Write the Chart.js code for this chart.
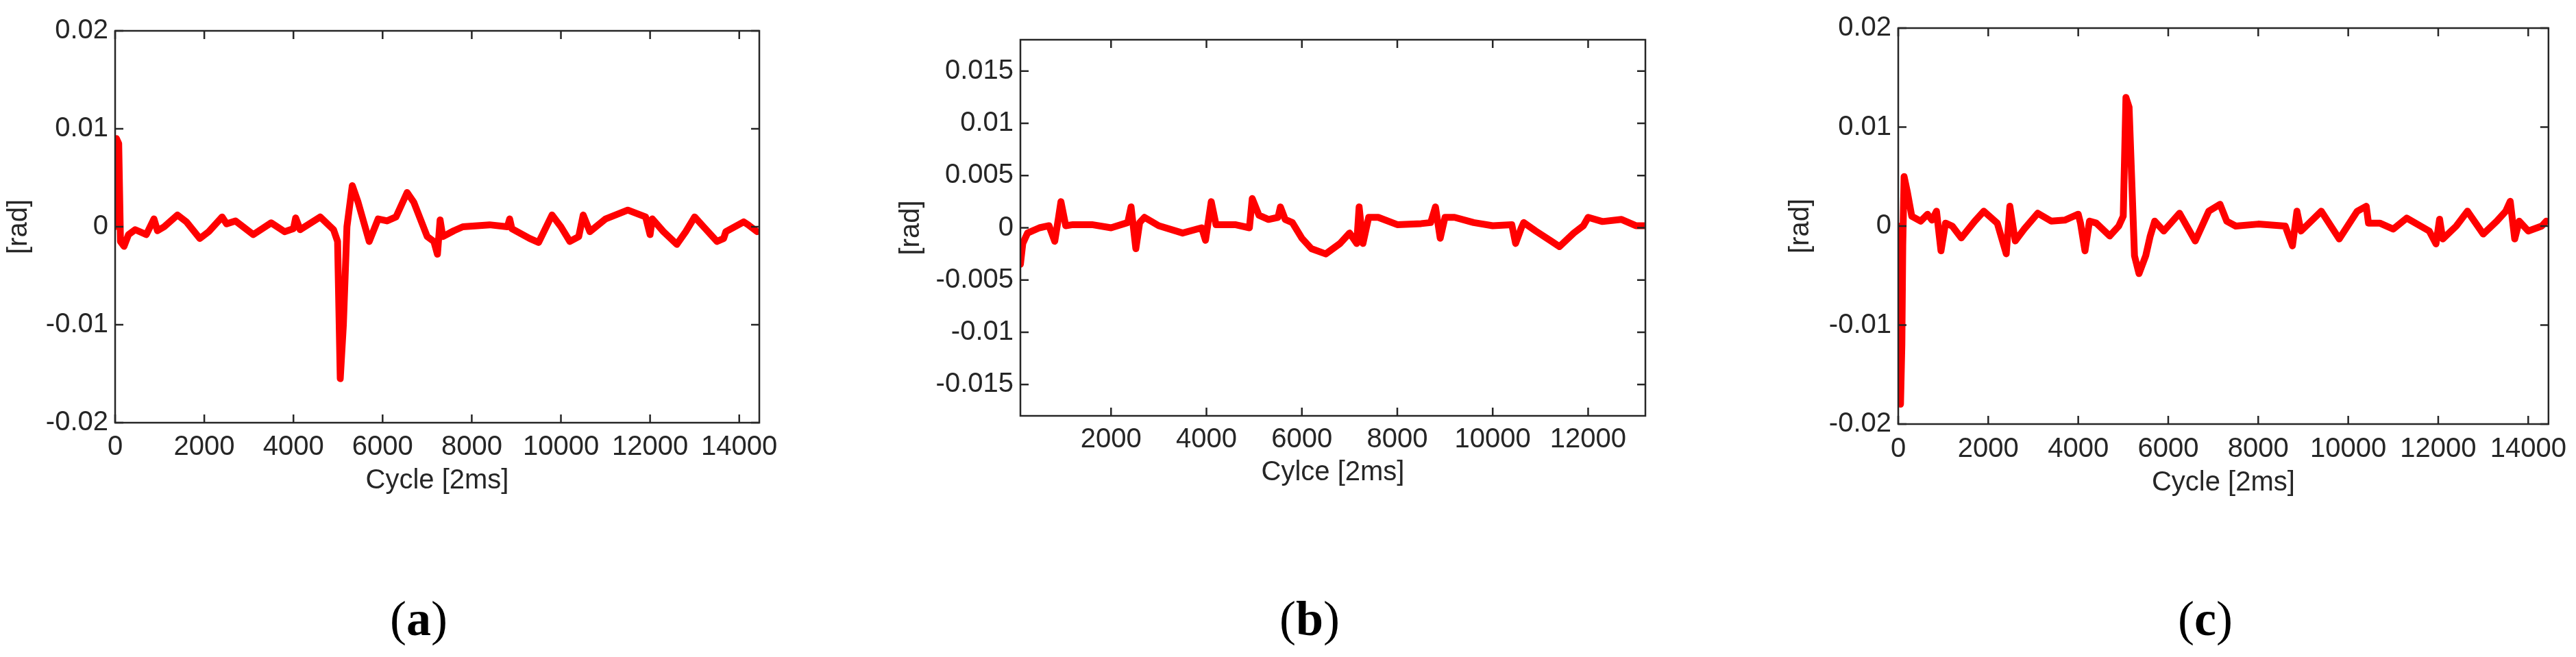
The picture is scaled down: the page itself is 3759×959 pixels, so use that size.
<!DOCTYPE html>
<html>
<head>
<meta charset="utf-8">
<script src="https://cdn.jsdelivr.net/npm/chart.js@4.4.1/dist/chart.umd.min.js"></script>
<style>
  body { margin: 0; background: #fff; width: 3759px; height: 959px; position: relative; overflow: hidden; }
  canvas { position: absolute; top: 0; }
  .cap { position: absolute; top: 862px; font-family: "Liberation Serif", serif; font-size: 72px; color: #000; transform: translateX(-50%); }
  .cap b { font-weight: bold; }
</style>
</head>
<body>
<canvas id="chartA" width="1250" height="726" style="left:0px"></canvas>
<canvas id="chartB" width="1200" height="714" style="left:1302px"></canvas>
<canvas id="chartC" width="1159" height="729" style="left:2600px"></canvas>
<div class="cap" style="left:611px">(<b>a</b>)</div>
<div class="cap" style="left:1911px">(<b>b</b>)</div>
<div class="cap" style="left:3218px">(<b>c</b>)</div>
<script>
// Datos (valores en rad)
const cycleA = [0, 30, 80, 120, 200, 300, 450, 700, 870, 950, 1100, 1400, 1600, 1900, 2100, 2400, 2500, 2700, 3100, 3500, 3800, 4000, 4050, 4150, 4600, 4900, 4990, 5050, 5120, 5200, 5320, 5450, 5700, 5900, 6100, 6300, 6550, 6700, 7000, 7150, 7230, 7290, 7350, 7600, 7800, 8400, 8800, 8850, 8900, 9300, 9500, 9800, 10000, 10200, 10400, 10500, 10650, 11000, 11500, 11900, 12000, 12050, 12300, 12600, 12800, 13000, 13200, 13500, 13650, 13700, 14100, 14200, 14400];
const radA = [0, 9, 8.5, -1.5, -2, -0.8, -0.3, -0.8, 0.8, -0.4, 0, 1.2, 0.5, -1.2, -0.5, 1, 0.3, 0.6, -0.8, 0.4, -0.5, -0.2, 0.9, -0.3, 1, -0.3, -1.5, -15.5, -10, 0, 4.2, 2.5, -1.5, 0.8, 0.6, 1, 3.5, 2.5, -1, -1.5, -2.8, 0.7, -1, -0.4, 0, 0.2, 0, 0.8, -0.2, -1.2, -1.6, 1.2, 0, -1.5, -1, 1.2, -0.5, 0.8, 1.7, 1, -0.8, 0.8, -0.5, -1.8, -0.5, 1, 0, -1.5, -1.2, -0.5, 0.5, 0.2, -0.5].map(v => v / 1000);

const cycleB = [100, 150, 250, 500, 700, 820, 900, 950, 1050, 1200, 1600, 2000, 2350, 2420, 2520, 2600, 2700, 3000, 3500, 3900, 3980, 4100, 4200, 4600, 4900, 4960, 5100, 5300, 5500, 5550, 5650, 5800, 6000, 6200, 6500, 6800, 7000, 7150, 7200, 7280, 7400, 7600, 8000, 8500, 8700, 8800, 8900, 9000, 9200, 9600, 10000, 10400, 10480, 10600, 10650, 10900, 11200, 11400, 11700, 11900, 12000, 12300, 12700, 13000, 13200];
const radB = [-3.5, -1.5, -0.5, 0, 0.2, -1.3, 1, 2.5, 0.2, 0.3, 0.3, 0, 0.5, 2, -2, 0.5, 1, 0.2, -0.5, 0, -1.2, 2.5, 0.3, 0.3, 0, 2.8, 1.2, 0.8, 1, 2, 0.8, 0.5, -1, -2, -2.5, -1.5, -0.5, -1.5, 2, -1.5, 1, 1, 0.3, 0.4, 0.5, 2, -1, 1, 1, 0.5, 0.2, 0.3, -1.5, 0, 0.5, -0.3, -1.2, -1.8, -0.5, 0.2, 1, 0.6, 0.8, 0.2, 0.2].map(v => v / 1000);

const cycleC = [0, 20, 50, 80, 100, 130, 200, 300, 500, 650, 750, 850, 950, 1050, 1200, 1400, 1700, 1900, 2200, 2400, 2480, 2600, 2800, 3100, 3400, 3700, 4000, 4050, 4150, 4250, 4400, 4700, 4900, 5000, 5060, 5130, 5250, 5350, 5500, 5600, 5700, 5900, 6250, 6600, 6900, 7150, 7300, 7500, 8000, 8600, 8760, 8860, 8950, 9400, 9800, 10200, 10400, 10450, 10700, 11000, 11300, 11800, 11950, 12030, 12100, 12400, 12650, 13000, 13300, 13500, 13600, 13700, 13800, 14000, 14300, 14400];
const radC = [0, -10, -18, -12, -2, 5, 3.5, 1, 0.5, 1.2, 0.6, 1.5, -2.5, 0.3, 0, -1.2, 0.5, 1.5, 0.3, -2.8, 2, -1.5, -0.3, 1.3, 0.5, 0.6, 1.2, 0.3, -2.5, 0.5, 0.3, -1, 0, 1, 13, 12, -3, -4.8, -3, -1, 0.5, -0.5, 1.3, -1.5, 1.5, 2.2, 0.5, 0, 0.2, 0, -2, 1.5, -0.5, 1.5, -1.3, 1.5, 2, 0.3, 0.3, -0.3, 0.8, -0.5, -1.8, 0.7, -1.3, 0, 1.5, -0.8, 0.5, 1.5, 2.5, -1.3, 0.5, -0.5, 0, 0.5].map(v => v / 1000);

// Ticks
const xTicksAC = [0, 2000, 4000, 6000, 8000, 10000, 12000, 14000];
const xTicksB = [2000, 4000, 6000, 8000, 10000, 12000];
const yTicksAC = [-0.02, -0.01, 0, 0.01, 0.02];
const yLabelsAC = ['-0.02', '-0.01', '0', '0.01', '0.02'];
const yTicksB = [-0.015, -0.01, -0.005, 0, 0.005, 0.01, 0.015];
const yLabelsB = ['-0.015', '-0.01', '-0.005', '0', '0.005', '0.01', '0.015'];

const ink = '#262626';
const tickFont = { family: 'Liberation Sans, Arial, sans-serif', size: 40 };

// Marco con ticks hacia dentro, estilo MATLAB
const framePlugin = {
    id: 'frame',
    afterDatasetsDraw(chart) {
        const { ctx, chartArea: a, scales } = chart;
        ctx.save();
        ctx.strokeStyle = ink;
        ctx.lineWidth = 2.5;
        ctx.strokeRect(a.left, a.top, a.right - a.left, a.bottom - a.top);
        const len = 12;
        ctx.beginPath();
        scales.x.ticks.forEach(t => {
            const px = scales.x.getPixelForValue(t.value);
            ctx.moveTo(px, a.bottom); ctx.lineTo(px, a.bottom - len);
            ctx.moveTo(px, a.top); ctx.lineTo(px, a.top + len);
        });
        scales.y.ticks.forEach(t => {
            const py = scales.y.getPixelForValue(t.value);
            ctx.moveTo(a.left, py); ctx.lineTo(a.left + len, py);
            ctx.moveTo(a.right, py); ctx.lineTo(a.right - len, py);
        });
        ctx.stroke();
        ctx.restore();
    }
};

function makePanel(id, xs, ys, opt) {
    const points = xs.map((x, i) => ({ x: x, y: ys[i] }));
    return new Chart(document.getElementById(id), {
        type: 'line',
        data: { datasets: [{ data: points, borderColor: '#ff0000', borderWidth: 10, pointRadius: 0, tension: 0, borderJoinStyle: 'round', borderCapStyle: 'round' }] },
        options: {
            responsive: false,
            animation: false,
            devicePixelRatio: 1,
            layout: { padding: { top: opt.top, right: opt.right, left: 0, bottom: 0 } },
            plugins: { legend: { display: false }, tooltip: { enabled: false } },
            scales: {
                x: {
                    type: 'linear', min: opt.xmin, max: opt.xmax,
                    grid: { display: false, drawTicks: false }, border: { display: false },
                    afterBuildTicks: s => { s.ticks = opt.xTicks.map(v => ({ value: v })); },
                    afterFit: s => { s.height = opt.xh; },
                    ticks: { color: ink, font: tickFont, padding: opt.tickPad, maxRotation: 0, autoSkip: false, callback: v => String(v) },
                    title: { display: true, text: opt.xTitle, color: ink, font: tickFont, padding: { top: 0, bottom: 0 } }
                },
                y: {
                    min: opt.ymin, max: opt.ymax,
                    grid: { display: false, drawTicks: false }, border: { display: false },
                    afterBuildTicks: s => { s.ticks = opt.yTicks.map(v => ({ value: v })); },
                    afterFit: s => { s.width = opt.yw; },
                    ticks: { color: ink, font: tickFont, padding: 10, autoSkip: false, callback: (v, i) => opt.yLabels[i] },
                    title: { display: true, text: '[rad]', color: ink, font: tickFont, padding: { top: 4, bottom: 0 } }
                }
            }
        },
        plugins: [framePlugin]
    });
}

makePanel('chartA', cycleA, radA, { top: 45, right: 142, xh: 109, yw: 168, tickPad: 12, xmin: 0, xmax: 14450, ymin: -0.02, ymax: 0.02, xTicks: xTicksAC, yTicks: yTicksAC, yLabels: yLabelsAC, xTitle: 'Cycle [2ms]' });
makePanel('chartB', cycleB, radB, { top: 58, right: 101, xh: 107, yw: 187, tickPad: 11, xmin: 100, xmax: 13200, ymin: -0.018, ymax: 0.018, xTicks: xTicksB, yTicks: yTicksB, yLabels: yLabelsB, xTitle: 'Cylce [2ms]' });
makePanel('chartC', cycleC, radC, { top: 41, right: 35, xh: 110, yw: 170, tickPad: 13, xmin: 0, xmax: 14450, ymin: -0.02, ymax: 0.02, xTicks: xTicksAC, yTicks: yTicksAC, yLabels: yLabelsAC, xTitle: 'Cycle [2ms]' });
</script>
</body>
</html>
